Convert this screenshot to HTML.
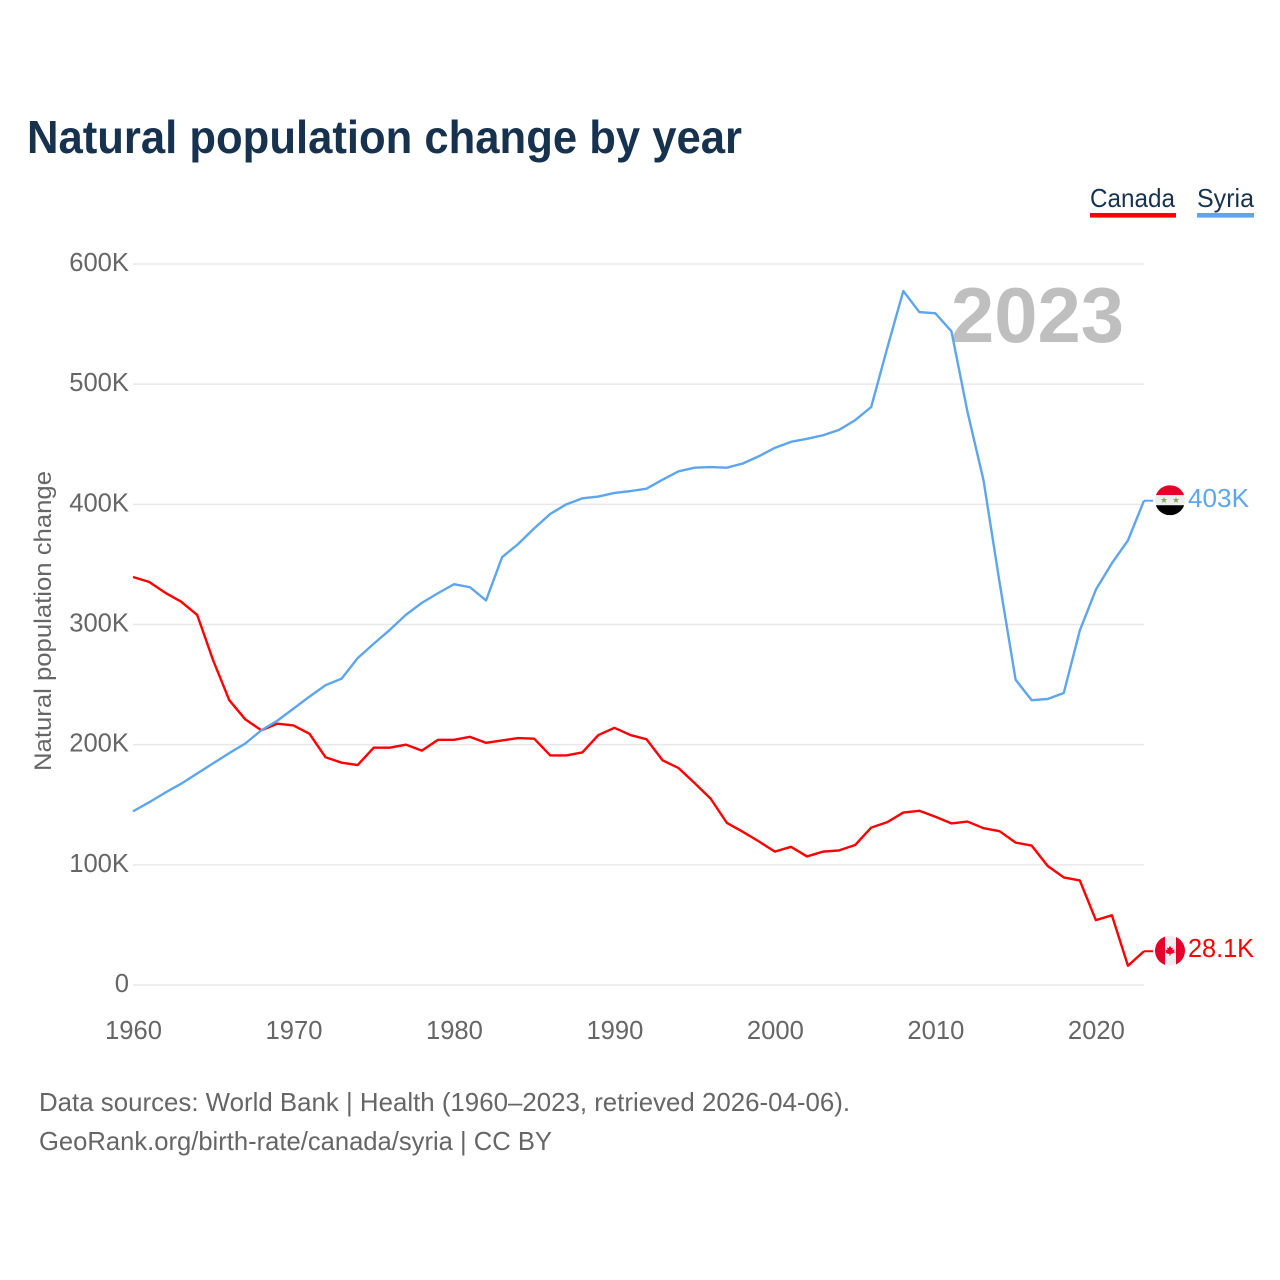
<!DOCTYPE html>
<html lang="en">
<head>
<meta charset="utf-8">
<title>Natural population change by year</title>
<style>
  html, body { margin: 0; padding: 0; background: #fff; }
  svg { display: block; font-family: "Liberation Sans", sans-serif; }
</style>
</head>
<body>
<svg id="chart" width="1280" height="1280" viewBox="0 0 1280 1280" xmlns="http://www.w3.org/2000/svg">
  <rect x="0" y="0" width="1280" height="1280" fill="#ffffff"/>
  <text x="27" y="153" font-size="46" font-weight="700" fill="#17324f" textLength="715" lengthAdjust="spacingAndGlyphs">Natural population change by year</text>

  <g>
    <g>
      <text x="1090" y="207" font-size="26" fill="#17324f" textLength="85" lengthAdjust="spacingAndGlyphs">Canada</text>
      <rect x="1090" y="213" width="86" height="4.6" fill="#ff0000"/>
    </g>
    <g>
      <text x="1197" y="207" font-size="26" fill="#17324f" textLength="57" lengthAdjust="spacingAndGlyphs">Syria</text>
      <rect x="1197" y="213" width="57" height="4.6" fill="#5da5ec"/>
    </g>
  </g>

  <g id="grid"></g>
  <g id="y-ticks"></g>
  <g id="x-ticks"></g>

  <text transform="translate(51 621) rotate(-90)" text-anchor="middle" font-size="24.5" fill="#666666" textLength="300" lengthAdjust="spacingAndGlyphs">Natural population change</text>

  <text x="1124" y="342" text-anchor="end" font-size="78" font-weight="700" fill="#bfbfbf" textLength="173" lengthAdjust="spacingAndGlyphs">2023</text>

  <g id="series"></g>
  <g id="end-markers"></g>

  <text x="39" y="1111" font-size="26" fill="#666666" textLength="811" lengthAdjust="spacingAndGlyphs">Data sources: World Bank | Health (1960–2023, retrieved 2026-04-06).</text>
  <text x="39" y="1150" font-size="26" fill="#666666" textLength="513" lengthAdjust="spacingAndGlyphs">GeoRank.org/birth-rate/canada/syria | CC BY</text>
</svg>

<script>
const firstYear = 1960;
const canadaValues = [
  339.5, 335.5, 326.5, 319, 308, 270, 237, 221, 212, 217.5,
  216, 209, 189.5, 185, 183, 197.5, 197.5, 200, 195, 204,
  204, 206.5, 201.5, 203.5, 205.5, 205, 191, 191, 193.5, 208,
  214, 208, 204.5, 187, 180.5, 168, 155, 135, 127.5, 119.5,
  111, 115, 107, 111, 112, 116.5, 131, 135.5, 143.5, 145,
  140, 134.5, 136, 130.5, 128, 118.5, 116, 99, 89.5, 87,
  54, 58, 16, 28.1
];
const syriaValues = [
  144.5, 152, 160, 167.5, 176, 184.5, 193, 201, 212, 220,
  230, 240, 249.5, 255, 272, 284, 295.5, 308, 318, 326,
  333.5, 331, 320, 356, 367, 380, 392, 400, 405, 406.5,
  409.5, 411, 413, 420.5, 427.5, 430.5, 431, 430.5, 434, 440,
  447, 452, 454.5, 457.5, 462, 470, 481, 530, 577.5, 560,
  559, 544, 477, 420, 335, 254, 237, 238, 243, 295,
  329, 351, 370, 403
];
const yTickValues = [0, 100, 200, 300, 400, 500, 600];
const yTickLabels = ["0", "100K", "200K", "300K", "400K", "500K", "600K"];
const xTickYears = [1960, 1970, 1980, 1990, 2000, 2010, 2020];
const canadaEndLabel = "28.1K";
const syriaEndLabel = "403K";

const NS = "http://www.w3.org/2000/svg";
const plot = { left: 133, right: 1144, top: 264, bottom: 985 };
const yearSpan = canadaValues.length - 1;
const xScale = (year) => plot.left + (year - firstYear) * (plot.right - plot.left) / yearSpan;
const yScale = (value) => plot.bottom - value * (plot.bottom - plot.top) / 600;

function svgEl(tag, attrs, parent) {
  const el = document.createElementNS(NS, tag);
  for (const key in attrs) el.setAttribute(key, attrs[key]);
  parent.appendChild(el);
  return el;
}

const gridGroup = document.getElementById("grid");
const yTickGroup = document.getElementById("y-ticks");
yTickValues.forEach((value, i) => {
  const line = svgEl("line", { x1: plot.left, x2: plot.right, y1: yScale(value), y2: yScale(value), stroke: "#e8e8e8", "stroke-width": 1.5 }, gridGroup);
  
  
  const label = svgEl("text", { x: 129, y: yScale(value) + 7, "text-anchor": "end", "font-size": 25.6, fill: "#666666" }, yTickGroup);
  label.textContent = yTickLabels[i];
  
  
});

const xTickGroup = document.getElementById("x-ticks");
xTickYears.forEach((year) => {
  const label = svgEl("text", { x: xScale(year) + 0.5, y: 1039, "text-anchor": "middle", "font-size": 25.6, fill: "#666666" }, xTickGroup);
  label.textContent = String(year);
  
  
});

const seriesGroup = document.getElementById("series");
function linePoints(values) {
  return values.map((v, i) => xScale(firstYear + i).toFixed(2) + "," + yScale(v).toFixed(2)).join(" ");
}
const canadaLine = svgEl("polyline", { points: linePoints(canadaValues), fill: "none", stroke: "#ff0000", "stroke-width": 2.4, "stroke-linejoin": "round" }, seriesGroup);


const syriaLine = svgEl("polyline", { points: linePoints(syriaValues), fill: "none", stroke: "#5da5ec", "stroke-width": 2.4, "stroke-linejoin": "round" }, seriesGroup);



const markerGroup = document.getElementById("end-markers");
const defs = svgEl("defs", {}, markerGroup);
const clip = svgEl("clipPath", { id: "flag-clip" }, defs);
svgEl("circle", { cx: 0, cy: 0, r: 15 }, clip);

function star(cx, cy, r) {
  let pts = [];
  for (let i = 0; i < 10; i++) {
    const rad = i % 2 ? r * 0.42 : r;
    const a = -Math.PI / 2 + i * Math.PI / 5;
    pts.push((cx + rad * Math.cos(a)).toFixed(2) + "," + (cy + rad * Math.sin(a)).toFixed(2));
  }
  return pts.join(" ");
}

// Syria end marker
const syriaY = yScale(syriaValues[syriaValues.length - 1]);
const syriaConnector = svgEl("line", { x1: plot.right, x2: 1153, y1: syriaY, y2: syriaY, stroke: "#5da5ec", "stroke-width": 2 }, markerGroup);


const syriaFlag = svgEl("g", { transform: "translate(1170 " + (syriaY - 0.5) + ")", "clip-path": "url(#flag-clip)" }, markerGroup);


svgEl("rect", { x: -15, y: -15, width: 30, height: 10, fill: "#e4002b" }, syriaFlag);
svgEl("rect", { x: -15, y: -5, width: 30, height: 10, fill: "#eeeeee" }, syriaFlag);
svgEl("rect", { x: -15, y: 5, width: 30, height: 10, fill: "#000000" }, syriaFlag);
svgEl("polygon", { points: star(-6, 0, 3.4), fill: "#7fae5a" }, syriaFlag);
svgEl("polygon", { points: star(6, 0, 3.4), fill: "#7fae5a" }, syriaFlag);
const syriaLabel = svgEl("text", { x: 1188, y: syriaY + 6.5, "font-size": 25.6, fill: "#5da5ec", textLength: 61, lengthAdjust: "spacingAndGlyphs" }, markerGroup);
syriaLabel.textContent = syriaEndLabel;



// Canada end marker
const canadaY = yScale(canadaValues[canadaValues.length - 1]);
const canadaConnector = svgEl("line", { x1: plot.right, x2: 1153, y1: canadaY, y2: canadaY, stroke: "#ff0000", "stroke-width": 2 }, markerGroup);


const canadaFlag = svgEl("g", { transform: "translate(1170 " + (canadaY - 0.5) + ")", "clip-path": "url(#flag-clip)" }, markerGroup);


svgEl("rect", { x: -15, y: -15, width: 30, height: 30, fill: "#eeeeee" }, canadaFlag);
svgEl("rect", { x: -15, y: -15, width: 10, height: 30, fill: "#e4002b" }, canadaFlag);
svgEl("rect", { x: 6, y: -15, width: 9, height: 30, fill: "#e4002b" }, canadaFlag);
svgEl("polygon", { points: "0,-5 1.4,-2.6 3,-3.2 2.4,-0.6 4.6,-1.2 4,0.8 5,1.4 2,3.2 0.5,3 0.5,5 -0.5,5 -0.5,3 -2,3.2 -5,1.4 -4,0.8 -4.6,-1.2 -2.4,-0.6 -3,-3.2 -1.4,-2.6", fill: "#e4002b" }, canadaFlag);
const canadaLabel = svgEl("text", { x: 1188, y: canadaY + 6, "font-size": 25.6, fill: "#ff0000", textLength: 66, lengthAdjust: "spacingAndGlyphs" }, markerGroup);
canadaLabel.textContent = canadaEndLabel;


</script>
</body>
</html>
